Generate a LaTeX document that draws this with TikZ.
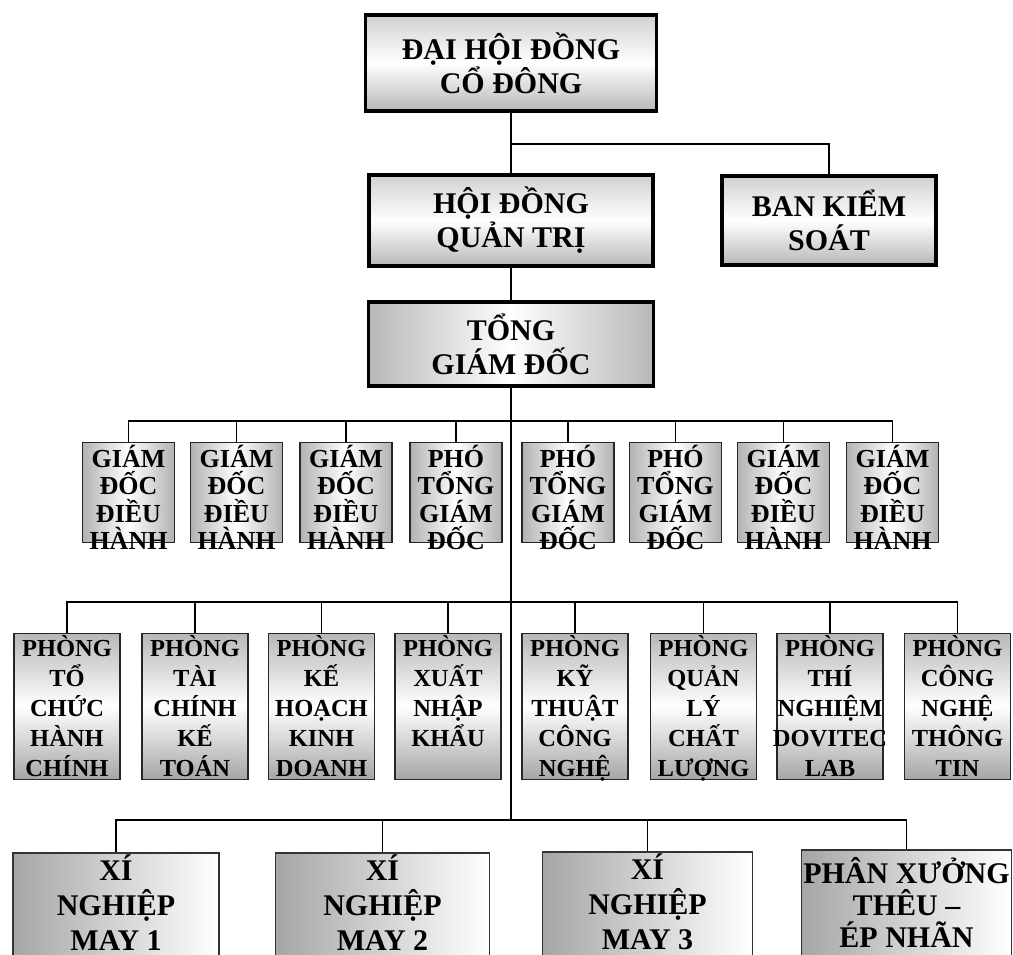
\documentclass[tikz,border=0pt]{standalone}
\usepackage{fontspec}
\setmainfont{Liberation Serif}

\begin{document}
\begin{tikzpicture}[x=1pt,y=1pt,
  conn/.style={line width=1.5pt},
  topbox/.style={draw,line width=3.5pt,inner sep=0pt,align=center,
    top color=black!18,bottom color=black!28,middle color=white,
    font=\fontsize{30}{34}\selectfont\bfseries},
  gdbox/.style={draw=black!85,line width=1.3pt,minimum width=92pt,minimum height=100pt,
    left color=black!30,right color=black!30,middle color=white,
    label={[anchor=north,inner sep=0pt,yshift=-3pt,align=center,
      font=\fontsize{26}{27.5}\selectfont\bfseries]north:#1}},
  phbox/.style={draw=black!85,line width=1.3pt,minimum width=106pt,minimum height=146pt,
    top color=black!28,bottom color=black!35,middle color=white,
    label={[anchor=north,inner sep=0pt,yshift=-2pt,align=center,
      font=\fontsize{24.5}{30}\selectfont\bfseries]north:#1}},
  xnshape/.style={draw=black!80,line width=1.2pt,minimum height=150pt,
    left color=black!35,right color=white},
  xnbox/.style={xnshape,
    label={[anchor=north,inner sep=0pt,yshift=-2pt,align=center,
      font=\fontsize{30}{35}\selectfont\bfseries]north:#1}}]
\clip (0,0) rectangle (1013,-955);
% top levels
\node[topbox,minimum width=291pt,minimum height=96pt] (dhcd) at (511,-63) {ĐẠI HỘI ĐỒNG\\CỔ ĐÔNG};
\node[topbox,minimum width=284pt,minimum height=91pt] (hdqt) at (511,-220.5) {HỘI ĐỒNG\\QUẢN TRỊ};
\node[topbox,minimum width=214pt,minimum height=89pt] (bks) at (829,-220.5) {BAN KIỂM\\SOÁT};
\node[topbox,left color=black!28,right color=black!28,middle color=white,
  minimum width=285pt,minimum height=84pt] (tgd) at (511,-344) {TỔNG\\GIÁM ĐỐC};
\coordinate (b0) at (511,-144);\coordinate (b1) at (511,-421);
\coordinate (b2) at (511,-602);\coordinate (b3) at (511,-820);
% directors
\foreach \x/\t [count=\i] in {128.5/{GIÁM\\ĐỐC\\ĐIỀU\\HÀNH},236.5/{GIÁM\\ĐỐC\\ĐIỀU\\HÀNH},
  346/{GIÁM\\ĐỐC\\ĐIỀU\\HÀNH},456/{PHÓ\\TỔNG\\GIÁM\\ĐỐC},568/{PHÓ\\TỔNG\\GIÁM\\ĐỐC},
  675.5/{PHÓ\\TỔNG\\GIÁM\\ĐỐC},783.5/{GIÁM\\ĐỐC\\ĐIỀU\\HÀNH},892.5/{GIÁM\\ĐỐC\\ĐIỀU\\HÀNH}}
  {\node[gdbox=\t] (gd\i) at (\x,-492.5) {};}
% departments
\foreach \x/\t [count=\i] in {67/{PHÒNG\\TỔ\\CHỨC\\HÀNH\\CHÍNH},195/{PHÒNG\\TÀI\\CHÍNH\\KẾ\\TOÁN},
  321.5/{PHÒNG\\KẾ\\HOẠCH\\KINH\\DOANH},448/{PHÒNG\\XUẤT\\NHẬP\\KHẨU},
  575/{PHÒNG\\KỸ\\THUẬT\\CÔNG\\NGHỆ},703.5/{PHÒNG\\QUẢN\\LÝ\\CHẤT\\LƯỢNG},
  830/{PHÒNG\\THÍ\\NGHIỆM\\DOVITEC\\LAB},957.5/{PHÒNG\\CÔNG\\NGHỆ\\THÔNG\\TIN}}
  {\node[phbox=\t] (ph\i) at (\x,-706.5) {};}
% factories
\node[xnbox={XÍ\\NGHIỆP\\MAY 1},minimum width=206pt] (xn1) at (116,-928) {};
\node[xnbox={XÍ\\NGHIỆP\\MAY 2},minimum width=214pt] (xn2) at (382.5,-928) {};
\node[xnbox={XÍ\\NGHIỆP\\MAY 3},minimum width=210pt] (xn3) at (647.5,-927) {};
\node[xnshape,minimum width=210pt,
  label={[anchor=north,inner sep=0pt,yshift=-8pt,align=center,
    font=\fontsize{30}{32}\selectfont\bfseries]north:{PHÂN XƯỞNG\\THÊU --\\ÉP NHÃN}}] (pxt) at (906.5,-925) {};
% connectors
\draw[conn] (dhcd.south) -- (hdqt.north) (b0) -| (bks.north);
\draw[conn] (hdqt.south) -- (tgd.north) (tgd.south) -- (b3);
\draw[conn] (gd1.north) |- (b1) -| (gd8.north);
\foreach \i in {2,...,7}{\draw[conn] (gd\i.north) -- (gd\i.north |- b1);}
\draw[conn] (ph1.north) |- (b2) -| (ph8.north);
\foreach \i in {2,...,7}{\draw[conn] (ph\i.north) -- (ph\i.north |- b2);}
\draw[conn] (xn1.north) |- (b3) -| (pxt.north);
\foreach \n in {xn2,xn3}{\draw[conn] (\n.north) -- (\n.north |- b3);}
\end{tikzpicture}
\end{document}
